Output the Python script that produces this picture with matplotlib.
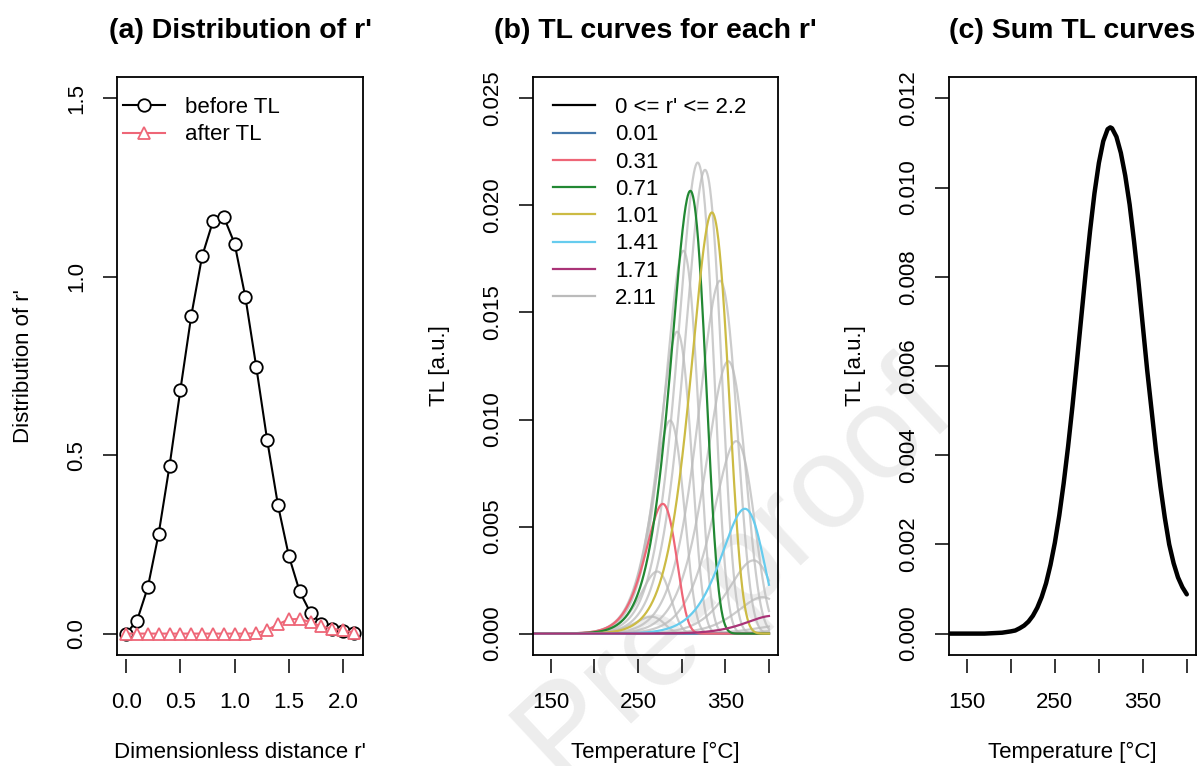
import matplotlib.pyplot as plt
import numpy as np
from matplotlib.lines import Line2D

plt.rcParams['font.family'] = ['Liberation Sans', 'DejaVu Sans']

# (a) distribution of the dimensionless distance r'
r_prime = [0.0, 0.1, 0.2, 0.3, 0.4, 0.5, 0.6, 0.7, 0.8, 0.9, 1.0,
           1.1, 1.2, 1.3, 1.4, 1.5, 1.6, 1.7, 1.8, 1.9, 2.0, 2.1]
before_tl = [0.0, 0.036, 0.13, 0.28, 0.47, 0.683, 0.89, 1.057, 1.155, 1.168, 1.093,
             0.942, 0.747, 0.543, 0.36, 0.218, 0.118, 0.058, 0.027, 0.013, 0.006, 0.002]
after_tl = [0.0, 0.0, 0.0, 0.0, 0.0, 0.0, 0.0, 0.0, 0.0, 0.0, 0.0,
            0.0, 0.001, 0.01, 0.026, 0.04, 0.041, 0.032, 0.02, 0.014, 0.009, 0.003]

# (b) one glow peak per r': peak temperature [°C] and peak height [a.u.]
curve_r = ["0.01", "0.11", "0.21", "0.31", "0.41", "0.51", "0.61", "0.71", "0.81", "0.91", "1.01",
           "1.11", "1.21", "1.31", "1.41", "1.51", "1.61", "1.71", "1.81", "1.91", "2.01", "2.11"]
peak_temp = [257, 265, 271.8, 278.2, 286.6, 294.6, 301.8, 309.8, 318.2, 326.6, 334.5,
             343.7, 353.2, 362.3, 372.2, 382, 392.5, 403.5, 415, 427, 439, 451]
peak_tl = [0.00001, 0.00079, 0.0029, 0.00606, 0.00995, 0.0141, 0.01788, 0.02068, 0.0220, 0.02166, 0.01967,
           0.01648, 0.01272, 0.00899, 0.00583, 0.00342, 0.0017, 0.00083, 0.00038, 0.00017, 0.00007, 0.00003]
activation_energy = 1.45  # eV

# (c) summed TL curve
sum_temp = [130, 140, 150, 160, 170, 180, 190, 200, 205, 210, 215, 220, 225, 230, 235, 240, 245,
            250, 255, 260, 265, 270, 275, 280, 285, 290, 295, 300, 305, 310, 313, 315, 320,
            325, 330, 335, 340, 345, 350, 355, 360, 365, 370, 375, 380, 385, 390, 395, 400]
sum_tl = [0.0, 0.0, 0.0, 0.0, 0.0, 0.00001, 0.00002, 0.00005, 0.00007, 0.00012, 0.00018, 0.00027, 0.0004,
          0.00058, 0.00082, 0.00113, 0.00154, 0.00204, 0.00265, 0.00337, 0.00419, 0.0051, 0.00608,
          0.00709, 0.00809, 0.00903, 0.00987, 0.01055, 0.01104, 0.01131, 0.01135, 0.01133, 0.01114,
          0.01078, 0.01027, 0.00962, 0.0088, 0.0079, 0.0069, 0.0059, 0.005, 0.0041, 0.0033,
          0.0026, 0.002, 0.00158, 0.00126, 0.00104, 0.00088]

highlight = {"0.01": "#4477AA", "0.31": "#EE6677", "0.71": "#228833", "1.01": "#CCBB44",
             "1.41": "#66CCEE", "1.71": "#AA3377", "2.11": "#BBBBBB"}

K_B = 8.617e-5


def glow_peak(t_c, tm_c, im, e):
    # first-order glow peak written in terms of its maximum (Kitis form)
    t = t_c + 273.15
    tm = tm_c + 273.15
    x = e / (K_B * t) * (t - tm) / tm
    d = 2 * K_B * t / e
    dm = 2 * K_B * tm / e
    return im * np.exp(1 + x - (t / tm) ** 2 * np.exp(x) * (1 - d) - dm)


def r_axes(ax):
    for s in ax.spines.values():
        s.set_linewidth(1.3)
    ax.spines['bottom'].set_position(('outward', 3))
    ax.spines['bottom'].set_visible(False)
    ax.plot([0, 1], [0, 0], transform=ax.transAxes, color='black', lw=1.3, clip_on=False)
    ax.tick_params(direction='out', length=10, width=1.1, labelsize=16, pad=11.5)
    ax.tick_params(axis='x', pad=13.5)
    ax.tick_params(axis='y', labelrotation=90)
    for lab in ax.get_yticklabels():
        lab.set_va('center')
    ax.set_facecolor('none')


fig = plt.figure(figsize=(12.04, 7.66), dpi=100)
fig.text(0.61, 0.255, "Pre-proof", rotation=43, fontsize=94, color='#EDEDED',
         ha='center', va='center', zorder=-1)

w, h, b = 0.2043, 0.7546, 0.1449
ax1 = fig.add_axes([0.0972, b, w, h])
ax2 = fig.add_axes([0.4427, b, 0.2035, h])
ax3 = fig.add_axes([0.7882, b, 0.2051, h])

# (a)
ax1.plot(r_prime, before_tl, color='black', lw=1.5, marker='o', ms=9, mfc='white', mew=1.3,
         label='before TL')
ax1.plot(r_prime, after_tl, color='#EE6677', lw=1.5, marker='^', ms=9, mfc='white', mew=1.3,
         label='after TL')
ax1.set_xlim(-0.084, 2.184)
ax1.set_ylim(-0.06, 1.56)
ax1.set_xticks([0, 0.5, 1.0, 1.5, 2.0])
ax1.set_xticklabels(['0.0', '0.5', '1.0', '1.5', '2.0'])
ax1.set_yticks([0, 0.5, 1.0, 1.5])
ax1.set_yticklabels(['0.0', '0.5', '1.0', '1.5'])
ax1.set_xlabel("Dimensionless distance r'", fontsize=16)
ax1.set_ylabel("Distribution of r'", fontsize=16)
ax1.legend(loc='upper left', bbox_to_anchor=(0.024, 0.965), frameon=False, fontsize=16,
           handlelength=1.9, handletextpad=0.9, labelspacing=0.28, borderpad=0, borderaxespad=0)

# (b)
temp = np.linspace(130, 400, 541)
for r, tm, im in zip(curve_r, peak_temp, peak_tl):
    if r in highlight and r != "2.11":
        continue
    ax2.plot(temp, glow_peak(temp, tm, im, activation_energy), color='#BBBBBB', lw=1.6, alpha=0.75)
for r, tm, im in zip(curve_r, peak_temp, peak_tl):
    if r in highlight and r != "2.11":
        ax2.plot(temp, glow_peak(temp, tm, im, activation_energy), color=highlight[r], lw=1.6)
handles = [Line2D([], [], color='black', lw=1.6)]
labels = ["0 <= r' <= 2.2"]
for r, c in highlight.items():
    handles.append(Line2D([], [], color=c, lw=1.6))
    labels.append(r)
ax2.legend(handles, labels, loc='upper left', bbox_to_anchor=(0.082, 0.965), frameon=False,
           fontsize=16, handlelength=1.9, handletextpad=0.9, labelspacing=0.28, borderpad=0,
           borderaxespad=0)
ax2.set_xlim(129.6, 410.4)
ax2.set_ylim(-0.001, 0.026)
ax2.set_yticks([0, 0.005, 0.01, 0.015, 0.02, 0.025])
ax2.set_yticklabels(['0.000', '0.005', '0.010', '0.015', '0.020', '0.025'])
ax2.set_xlabel("Temperature [°C]", fontsize=16)
ax2.set_ylabel("TL [a.u.]", fontsize=16)

# (c)
ax3.plot(sum_temp, sum_tl, color='black', lw=3.2, solid_capstyle='round')
ax3.set_xlim(129.6, 410.4)
ax3.set_ylim(-0.00048, 0.01248)
ax3.set_yticks([0, 0.002, 0.004, 0.006, 0.008, 0.010, 0.012])
ax3.set_yticklabels(['0.000', '0.002', '0.004', '0.006', '0.008', '0.010', '0.012'])
ax3.set_xlabel("Temperature [°C]", fontsize=16)
ax3.set_ylabel("TL [a.u.]", fontsize=16)

for ax in (ax2, ax3):
    ax.set_xticks([150, 200, 250, 300, 350, 400])
    ax.set_xticklabels(['150', '', '250', '', '350', ''])

titles = ["(a) Distribution of r'", "(b) TL curves for each r'", "(c) Sum TL curves"]
for ax, t in zip((ax1, ax2, ax3), titles):
    r_axes(ax)
    ax.text(0.5, 1.080, t, transform=ax.transAxes, ha='center', va='center',
            fontsize=20.5, fontweight='bold')
    ax.xaxis.set_label_coords(0.5, -0.168)
    ax.xaxis.label.set_va('center')
    ax.yaxis.set_label_coords(-0.38, 0.5)
    ax.yaxis.label.set_va('center')

fig.savefig('out.png', dpi=100)
